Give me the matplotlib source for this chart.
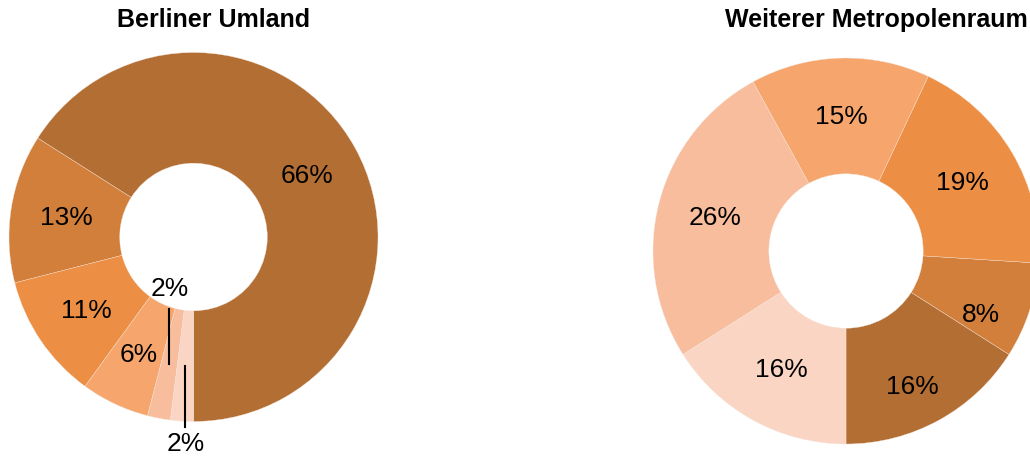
import numpy as np
import matplotlib.pyplot as plt

plt.rcParams['font.family'] = ['Liberation Sans', 'DejaVu Sans']

# shares in percent, drawn counter-clockwise from 6 o'clock
umland_vals = [66, 13, 11, 6, 2, 2]
metro_vals = [16, 8, 19, 15, 26, 16]
colors = ['#B36E34', '#D17F3B', '#EC8F45', '#F6A66D', '#F8BD9C', '#FAD5C3']
titles = ['Berliner Umland', 'Weiterer Metropolenraum']

W, H = 1030, 460
fig = plt.figure(figsize=(W / 100, H / 100), dpi=100)


def donut(rect, vals, nudge=None, leaders=None):
    ax = fig.add_axes(rect)
    wedges, _ = ax.pie(vals, colors=colors, startangle=-90, counterclock=True,
                       wedgeprops=dict(width=0.6, edgecolor='#f4e6dc', linewidth=0.25))
    ax.set_xlim(-1, 1)
    ax.set_ylim(-1, 1)
    ax.set_aspect('equal')
    nudge = nudge or {}
    leaders = leaders or {}
    for i, (w, v) in enumerate(zip(wedges, vals)):
        dth, r = nudge.get(i, (0, 0.70))
        mid = np.deg2rad((w.theta1 + w.theta2) / 2 + dth)
        x, y = r * np.cos(mid), r * np.sin(mid)
        if i in leaders:
            ln, off = leaders[i]
            ax.plot([x, x], [y, y + ln], color='black', lw=1.5, clip_on=False)
            y = y + off
        ax.text(x, y, f'{v}%', ha='center', va='center', fontsize=19, clip_on=False)
    return ax


# left: center (193.5, 238) px, radius 184.5 px
donut([9 / W, (H - 238 - 184.5) / H, 369 / W, 369 / H], umland_vals,
      leaders={4: (0.30, 0.41), 5: (-0.33, -0.42)})
# right: center (846, 252) px, radius 193 px
donut([653 / W, (H - 252 - 193) / H, 386 / W, 386 / H], metro_vals,
      nudge={0: (-2.8, 0.78), 1: (-7.2, 0.77)})

fig.text(214 / W, 1 - 27 / H, titles[0], ha='center', va='baseline',
         fontsize=18, fontweight='bold')
fig.text(876 / W, 1 - 27 / H, titles[1], ha='center', va='baseline',
         fontsize=18, fontweight='bold')

fig.savefig('out.png', dpi=100)
